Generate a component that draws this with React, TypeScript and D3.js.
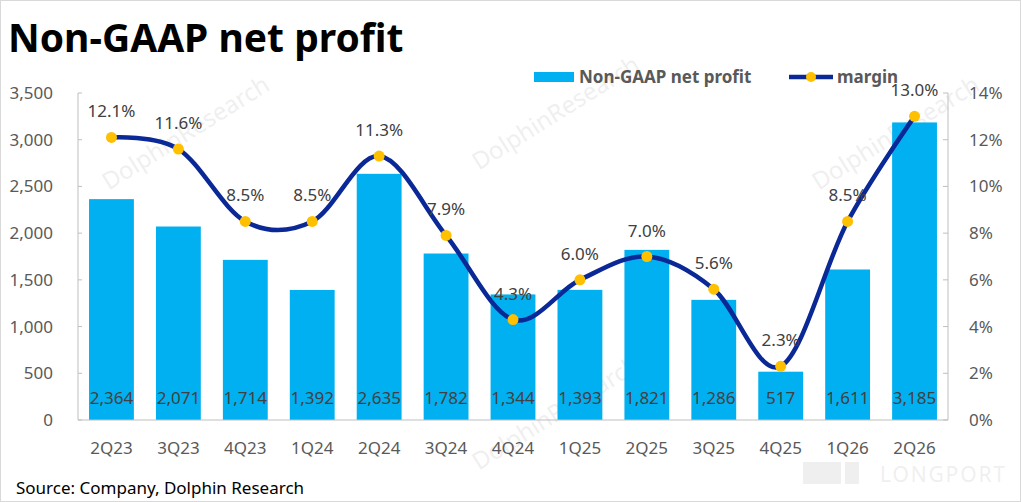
import React, { Component } from 'react';
import * as d3 from 'd3';

const quarters = ['2Q23','3Q23','4Q23','1Q24','2Q24','3Q24','4Q24','1Q25','2Q25','3Q25','4Q25','1Q26','2Q26'];
const profit = [2364,2071,1714,1392,2635,1782,1344,1393,1821,1286,517,1611,3185];
const margin = [12.1,11.6,8.5,8.5,11.3,7.9,4.3,6.0,7.0,5.6,2.3,8.5,13.0];
const leftTicks = [0,500,1000,1500,2000,2500,3000,3500];
const rightTicks = [0,2,4,6,8,10,12,14];

const FONT = '"Noto Sans", "Open Sans", sans-serif';

export class App extends Component<{}, {wid:number, hght:number, margin:any}> {
  constructor(props:any){
    super(props)
    this.state = {
      wid: 1021,
      hght: 502,
      margin: {left: 78, right: 73, top: 93, bottom: 82},
    }
  }
  render(){
    const m = this.state.margin
    const x = d3.scaleBand()
      .domain(quarters)
      .range([m.left, this.state.wid - m.right])
      .paddingInner(0.33)
      .paddingOuter(0.165)
    const y = d3.scaleLinear().domain([0,3500]).range([this.state.hght - m.bottom, m.top])
    const y2 = d3.scaleLinear().domain([0,14]).range([this.state.hght - m.bottom, m.top])
    const cx = (q:string) => (x(q) as number) + x.bandwidth() / 2
    const line = d3.line<number>()
      .x((d,i) => cx(quarters[i]))
      .y(d => y2(d))
      .curve(d3.curveCatmullRom.alpha(0))
    const x0 = m.left, x1 = this.state.wid - m.right, yb = y(0)

    const bars = profit.map((d,i) => (
      <rect key={i} x={x(quarters[i])} y={y(d)} width={x.bandwidth()} height={yb - y(d)} fill='#00B0F0' />
    ))
    const barLabels = profit.map((d,i) => (
      <text key={i} x={cx(quarters[i])} y={yb - 16} textAnchor='middle' fontSize={17} fill='#404040'>{d3.format(',')(d)}</text>
    ))
    const xLabels = quarters.map((q,i) => (
      <text key={i} x={cx(q)} y={yb + 34} textAnchor='middle' fontSize={17} fill='#595959'>{q}</text>
    ))
    const leftLabels = leftTicks.map((t,i) => (
      <g key={i}>
        <line x1={x0} x2={x0 + 4} y1={y(t)} y2={y(t)} stroke='#bfbfbf' />
        <text x={53} y={y(t) + 6} textAnchor='end' fontSize={17} fill='#595959'>{d3.format(',')(t)}</text>
      </g>
    ))
    const rightLabels = rightTicks.map((t,i) => (
      <g key={i}>
        <line x1={x1 - 5} x2={x1} y1={y2(t)} y2={y2(t)} stroke='#bfbfbf' />
        <text x={969} y={y2(t) + 6} fontSize={17} fill='#595959'>{t + '%'}</text>
      </g>
    ))
    const dots = margin.map((d,i) => (
      <circle key={i} cx={cx(quarters[i])} cy={y2(d)} r={5.5} fill='#FFC000' />
    ))
    const dotLabels = margin.map((d,i) => (
      <text key={i} x={cx(quarters[i])} y={y2(d) - 20} textAnchor='middle' fontSize={17} fill='#404040'>{d.toFixed(1) + '%'}</text>
    ))
    // faint watermarks
    const marks = [[190,140],[560,120],[900,140],[560,420]].map((p,i) => (
      <text key={i} x={p[0]} y={p[1]} transform={`rotate(-32 ${p[0]} ${p[1]})`} textAnchor='middle' fontSize={24} fill='#000' opacity={0.06}>DolphinResearch</text>
    ))

    return (
      <svg width={this.state.wid} height={this.state.hght} style={{display:'block', position:'absolute', left:0, top:0, fontFamily: FONT}}>
        <rect x={0.5} y={0.5} width={this.state.wid - 1} height={this.state.hght - 1} fill='#fff' stroke='#d9d9d9' />
        <text x={8} y={52} fontSize={39} fontWeight='bold' fill='#000'>Non-GAAP net profit</text>
        {marks}
        <g opacity={0.06}>
          <rect x={803} y={462} width={38} height={22} fill='#000' />
          <rect x={845} y={462} width={14} height={22} fill='#000' />
          <text x={880} y={482} fontSize={21} textLength={125} fill='#000'>LONGPORT</text>
        </g>
        {bars}
        <line x1={x0} x2={x0} y1={m.top} y2={yb} stroke='#bfbfbf' />
        <line x1={x1} x2={x1} y1={m.top} y2={yb} stroke='#bfbfbf' />
        <line x1={x0} x2={x1} y1={yb} y2={yb} stroke='#bfbfbf' />
        {leftLabels}
        {rightLabels}
        {barLabels}
        {xLabels}
        <path d={line(margin) as string} fill='none' stroke='#0A2896' strokeWidth={4.5} />
        {dots}
        {dotLabels}
        <rect x={534} y={72} width={40} height={10} fill='#00B0F0' />
        <text x={579} y={83} fontSize={17} fontWeight='bold' fill='#595959'>Non-GAAP net profit</text>
        <line x1={789} x2={833} y1={77} y2={77} stroke='#0A2896' strokeWidth={4.5} />
        <circle cx={811} cy={77} r={5} fill='#FFC000' />
        <text x={837} y={83} fontSize={17} fontWeight='bold' fill='#595959'>margin</text>
        <text x={16} y={494} fontSize={17} fill='#000'>Source: Company, Dolphin Research</text>
      </svg>
    )
  }
}

export default App;
